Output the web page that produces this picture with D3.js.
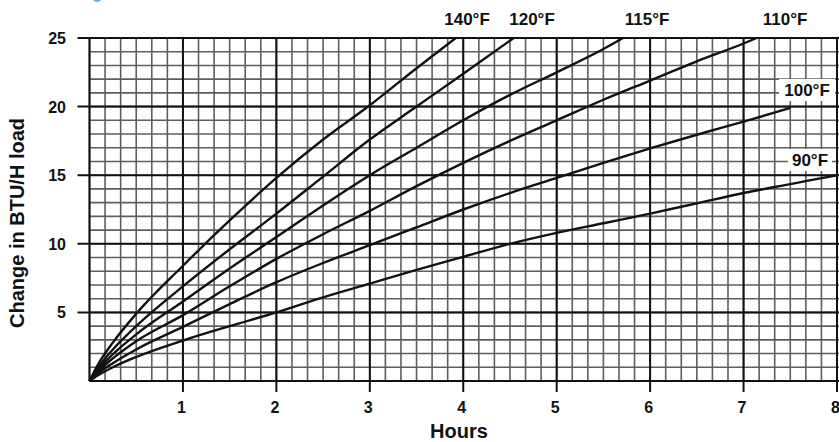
<!DOCTYPE html>
<html>
<head>
<meta charset="utf-8">
<script src="https://cdn.jsdelivr.net/npm/d3@7"></script>
<style>
  body { margin: 0; background: #fff; }
  text { font-family: "Liberation Sans", Arial, sans-serif; font-weight: bold; fill: #111; }
</style>
</head>
<body>
<script>
// Curves: hours -> change in BTU/H load
const temps = ["140°F", "120°F", "115°F", "110°F", "100°F", "90°F"];

const hours140 = [0, 0.1, 0.25, 0.5, 1, 1.5, 2, 2.5, 3, 3.5, 3.92];
const load140  = [0, 1.3, 2.8, 4.9, 8.4, 11.7, 14.8, 17.6, 20.1, 22.8, 25];

const hours120 = [0, 0.1, 0.25, 0.5, 1, 1.5, 2, 2.5, 3, 3.5, 4, 4.54];
const load120  = [0, 1.05, 2.3, 4.0, 6.9, 9.6, 12.2, 14.9, 17.6, 20.0, 22.4, 25];

const hours115 = [0, 0.1, 0.25, 0.5, 1, 1.5, 2, 2.5, 3, 3.5, 4, 4.5, 5, 5.5, 5.71];
const load115  = [0, 0.9, 1.95, 3.4, 5.8, 8.2, 10.5, 12.8, 15.0, 17.0, 19.0, 20.85, 22.5, 24.2, 25];

const hours110 = [0, 0.1, 0.25, 0.5, 1, 1.5, 2, 2.5, 3, 3.5, 4, 4.5, 5, 5.5, 6, 6.5, 7, 7.14];
const load110  = [0, 0.75, 1.65, 2.9, 4.8, 6.9, 8.9, 10.7, 12.4, 14.2, 15.9, 17.5, 19.0, 20.5, 21.9, 23.3, 24.6, 25];

const hours100 = [0, 0.1, 0.25, 0.5, 1, 1.5, 2, 2.5, 3, 3.5, 4, 4.5, 5, 5.5, 6, 6.5, 7, 7.5];
const load100  = [0, 0.6, 1.3, 2.3, 3.95, 5.6, 7.2, 8.6, 9.9, 11.2, 12.5, 13.7, 14.8, 15.9, 16.95, 17.95, 18.9, 19.9];

const hours90 = [0, 0.1, 0.25, 0.5, 1, 1.5, 2, 2.5, 3, 3.5, 4, 4.5, 5, 5.5, 6, 6.5, 7, 7.5, 8];
const load90  = [0, 0.45, 1.0, 1.75, 2.95, 4.0, 5.0, 6.1, 7.1, 8.1, 9.05, 10.0, 10.8, 11.5, 12.2, 12.95, 13.7, 14.35, 15.0];

const xTicks = [1, 2, 3, 4, 5, 6, 7, 8];
const yTicks = [5, 10, 15, 20, 25];

const series = [
  [hours140, load140], [hours120, load120], [hours115, load115],
  [hours110, load110], [hours100, load100], [hours90, load90]
].map((s, i) => ({name: temps[i], pts: s[0].map((h, j) => [h, s[1][j]])}));

const W = 839, H = 442;
const svg = d3.select("body").append("svg")
  .attr("width", W)
  .attr("height", H);

const x = d3.scaleLinear().domain([0, 8]).range([89.5, 837]);
const y = d3.scaleLinear().domain([0, 25]).range([381, 38]);
const right = W;

// tiny blue corner from the source page
svg.append("circle").attr("cx", 97).attr("cy", -3).attr("r", 5).attr("fill", "#5ab0ea");

//Minor grid
const grid = svg.append("g");
grid.selectAll("line.vmin")
  .data(d3.range(0, 8.3, 1 / 6))
  .enter().append("line")
    .attr("x1", d => x(d)).attr("x2", d => x(d))
    .attr("y1", y(25)).attr("y2", y(0))
    .attr("stroke", "#5e5e5e").attr("stroke-width", 1.6);
grid.selectAll("line.hmin")
  .data(d3.range(0, 26, 1))
  .enter().append("line")
    .attr("x1", x(0)).attr("x2", right)
    .attr("y1", d => y(d)).attr("y2", d => y(d))
    .attr("stroke", "#5e5e5e").attr("stroke-width", 1.6);

//Major grid + ticks
grid.selectAll("line.vmaj")
  .data(xTicks)
  .enter().append("line")
    .attr("x1", d => x(d)).attr("x2", d => x(d))
    .attr("y1", y(25)).attr("y2", y(0) + 11)
    .attr("stroke", "#111").attr("stroke-width", 2);
grid.selectAll("line.hmaj")
  .data(yTicks)
  .enter().append("line")
    .attr("x1", x(0) - 12).attr("x2", right)
    .attr("y1", d => y(d)).attr("y2", d => y(d))
    .attr("stroke", "#111").attr("stroke-width", 2);
// frame
svg.append("line").attr("x1", x(0)).attr("x2", x(0)).attr("y1", y(25)).attr("y2", y(0))
  .attr("stroke", "#111").attr("stroke-width", 2);
svg.append("line").attr("x1", x(0)).attr("x2", right).attr("y1", y(0)).attr("y2", y(0))
  .attr("stroke", "#111").attr("stroke-width", 2.2);

//Tick labels
svg.append("g").selectAll("text")
  .data(xTicks)
  .enter().append("text")
    .attr("x", d => x(d) - 1.5)
    .attr("y", 413)
    .attr("text-anchor", "middle")
    .attr("font-size", "16px")
    .text(d => d);
svg.append("g").selectAll("text")
  .data(yTicks)
  .enter().append("text")
    .attr("x", 66)
    .attr("y", d => y(d) + 6)
    .attr("text-anchor", "end")
    .attr("font-size", "16px")
    .text(d => d);

//Axis titles
svg.append("text")
  .attr("x", 459).attr("y", 438)
  .attr("text-anchor", "middle")
  .attr("font-size", "20px")
  .text("Hours");
svg.append("text")
  .attr("transform", "translate(24," + 223 + ") rotate(-90)")
  .attr("text-anchor", "middle")
  .attr("font-size", "20px")
  .text("Change in BTU/H load");

//Curves
const line = d3.line()
  .x(d => x(d[0]))
  .y(d => y(d[1]))
  .curve(d3.curveMonotoneX);
svg.append("g").selectAll("path")
  .data(series)
  .enter().append("path")
    .attr("d", d => line(d.pts))
    .attr("fill", "none")
    .attr("stroke", "#111")
    .attr("stroke-width", 2.4)
    .attr("stroke-linejoin", "round");

//Curve labels
const labelPos = {
  "140°F": [467, 25], "120°F": [532, 25], "115°F": [647, 25], "110°F": [785, 25],
  "100°F": [807, 96], "90°F": [810, 166]
};
const labels = svg.append("g").selectAll("g")
  .data(temps)
  .enter().append("g")
    .attr("transform", d => "translate(" + labelPos[d][0] + "," + labelPos[d][1] + ")");
labels.filter(d => d === "100°F" || d === "90°F")
  .append("rect")
    .attr("x", d => d === "100°F" ? -28 : -22)
    .attr("y", -17)
    .attr("width", d => d === "100°F" ? 56 : 44)
    .attr("height", 22)
    .attr("fill", "#fff");
labels.append("text")
  .attr("text-anchor", "middle")
  .attr("font-size", "17px")
  .text(d => d);
</script>
</body>
</html>
